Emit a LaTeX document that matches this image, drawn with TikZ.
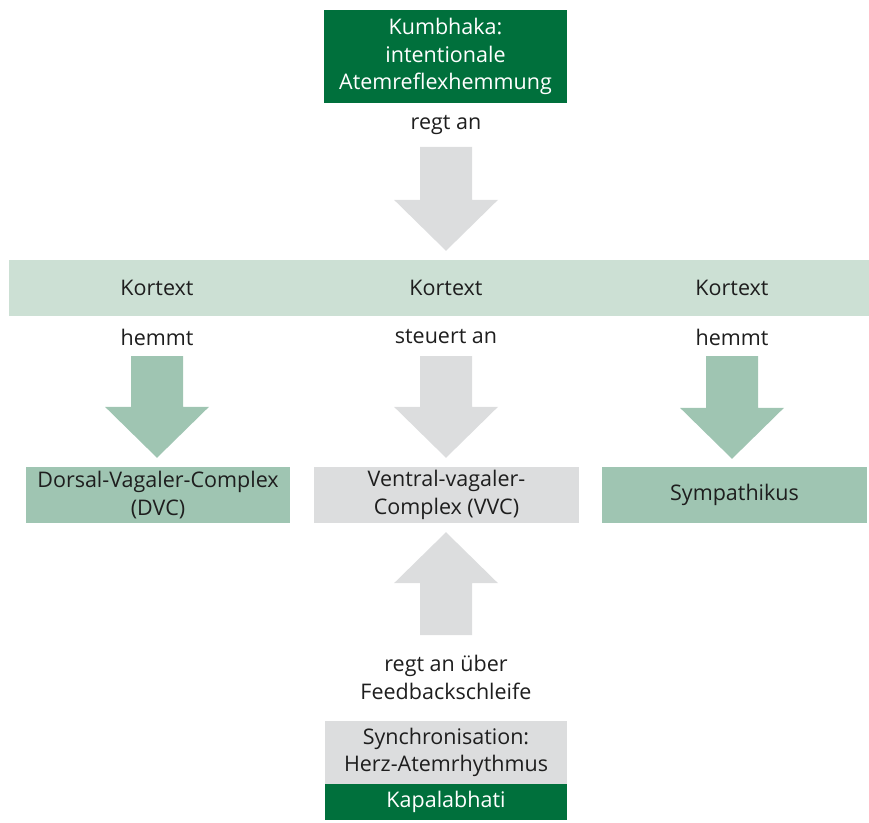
\documentclass[tikz,border=0pt]{standalone}
\usepackage{fontspec}
\setmainfont{Open Sans}
\usetikzlibrary{calc}
\definecolor{dkgreen}{RGB}{0,112,60}
\definecolor{band}{RGB}{204,224,212}
\definecolor{midgreen}{RGB}{159,197,178}
\definecolor{lgray}{RGB}{220,221,222}
\definecolor{txt}{RGB}{30,30,30}
\newcommand\bigarrow[3]{%
  \path ($(#2)!51pt!(#1)$) coordinate (hb);
  \fill[#3] ($(#1)!26pt!90:(#2)$) -- ($(hb)!26pt!90:(#2)$) -- ($(hb)!52pt!90:(#2)$) -- (#2)
    -- ($(hb)!52pt!-90:(#2)$) -- ($(hb)!26pt!-90:(#2)$) -- ($(#1)!26pt!-90:(#2)$) -- cycle;}
\begin{document}
\begin{tikzpicture}[x=1pt,y=-1pt,
  every node/.style={font=\fontsize{21.5}{27.5}\selectfont, text=txt, align=center, inner sep=0pt},
  box/.style={minimum width=#1, minimum height=56pt},
  lbl/.style={}]
\useasboundingbox (0,0) rectangle (869,822);
% top
\node[box=243pt, minimum height=93pt, fill=dkgreen, text=white] (kum) at (445.5,56.5) {Kumbhaka:\\intentionale\\Atemreflexhemmung};
\node[lbl] (regt) at (446,125) {regt an};
% band
\node[box=860pt, fill=band] (band) at (439,288) {};
\node (k1) at (157,288) {Kortext};
\node (k2) at (446,288) {Kortext};
\node (k3) at (732,288) {Kortext};
\node (h1) at (157,337) {hemmt};
\node (s2) at (446,337) {steuert an};
\node (h3) at (732,337) {hemmt};
% boxes
\node[box=264pt, fill=midgreen] (dvc) at (158,495) {Dorsal-Vagaler-Complex\\(DVC)};
\node[box=265pt, fill=lgray] (vvc) at (446.5,495) {Ventral-vagaler-\\Complex (VVC)};
\node[box=265pt, fill=midgreen] (sym) at (734.5,495) {Sympathikus};
% bottom
\node (rau) at (446,677.5) {regt an über\\Feedbackschleife};
\node[minimum width=242pt, minimum height=63pt, fill=lgray] (sync) at (446,752.5) {Synchronisation:\\Herz-Atemrhythmus};
\node[minimum width=242pt, minimum height=36pt, fill=dkgreen, text=white] (kapa) at (446,802) {Kapalabhati};
% arrows
\coordinate (a1s) at ($(regt.south)+(0,12)$);
\coordinate (a1e) at ($(band.north -| regt)+(0,-9)$);
\bigarrow{a1s}{a1e}{lgray}
\coordinate (a2s) at (157,356);
\coordinate (a2e) at ($(dvc.north -| a2s)+(0,-9)$);
\bigarrow{a2s}{a2e}{midgreen}
\coordinate (a3s) at (446,356);
\coordinate (a3e) at ($(vvc.north -| a3s)+(0,-9)$);
\bigarrow{a3s}{a3e}{lgray}
\coordinate (a4s) at (732,356);
\coordinate (a4e) at ($(sym.north -| a4s)+(0,-8)$);
\bigarrow{a4s}{a4e}{midgreen}
\coordinate (a5s) at (446,635);
\coordinate (a5e) at ($(vvc.south -| a5s)+(0,9)$);
\bigarrow{a5s}{a5e}{lgray}
\end{tikzpicture}
\end{document}
